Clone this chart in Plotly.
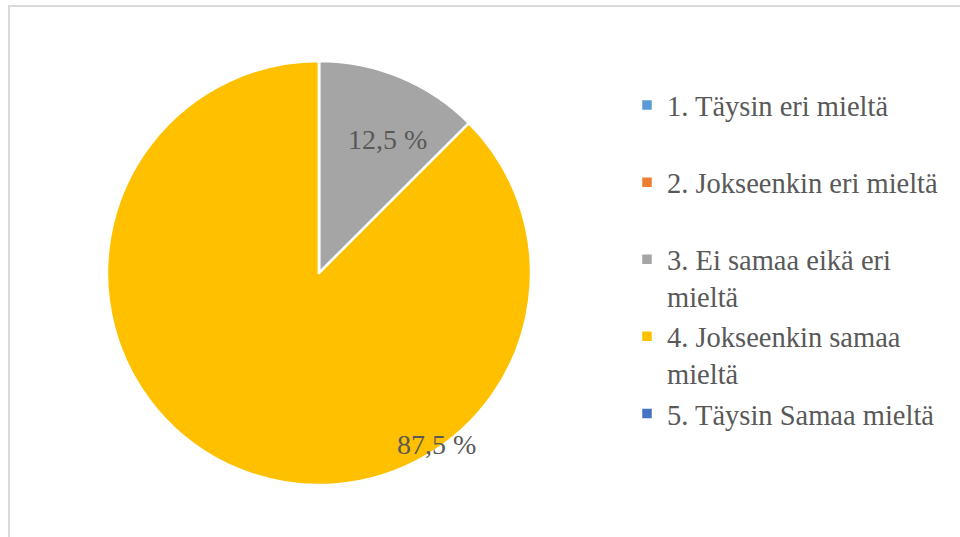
import plotly.graph_objects as go

categories = ["1. Täysin eri mieltä", "2. Jokseenkin eri mieltä",
              "3. Ei samaa eikä eri<br>mieltä", "4. Jokseenkin samaa<br>mieltä",
              "5. Täysin Samaa mieltä"]
values = [0, 0, 12.5, 87.5, 0]
colors = ["#5B9BD5", "#ED7D31", "#A5A5A5", "#FFC000", "#4472C4"]

FONT = "'Liberation Serif', 'Times New Roman', 'DejaVu Serif', serif"

# pad single-line legend entries so Excel-like even spacing is kept
legend_labels = [c if "<br>" in c else c + "<br> " for c in categories]

W, H = 960, 537
cx, cy, r = 319, 273, 212

fig = go.Figure(go.Pie(
    labels=legend_labels,
    values=values,
    marker=dict(colors=colors, line=dict(color="white", width=2.5)),
    sort=False,
    direction="clockwise",
    rotation=0,
    textinfo="none",
    hoverinfo="label+percent",
    domain=dict(x=[(cx - r) / W, (cx + r) / W],
                y=[(H - cy - r) / H, (H - cy + r) / H]),
))

def fmt(v):
    return f"{v:.1f} %".replace(".", ",")

label_pos = {2: (387, 122), 3: (436, 462)}
for i, (px, py) in label_pos.items():
    fig.add_annotation(text=fmt(values[i]), x=px / W, y=1 - py / H,
                       xref="paper", yref="paper", showarrow=False,
                       font=dict(family=FONT, size=28, color="#595959"))

fig.add_shape(type="rect", xref="paper", yref="paper",
              x0=9 / W, x1=1.05, y0=-0.05, y1=1 - 6 / H,
              line=dict(color="#D9D9D9", width=2), fillcolor="rgba(0,0,0,0)")

fig.update_layout(
    width=W, height=H,
    margin=dict(l=0, r=0, t=0, b=0),
    paper_bgcolor="white",
    plot_bgcolor="white",
    font=dict(family=FONT, size=28, color="#595959"),
    showlegend=True,
    legend=dict(x=627 / W, y=1 - 80 / H, xanchor="left", yanchor="top",
                valign="top", bgcolor="rgba(0,0,0,0)",
                font=dict(family=FONT, size=28.5, color="#595959"),
                tracegroupgap=0),
)

fig.write_html("out.html", config={"displayModeBar": False},
               post_script="document.body.style.margin='0';")
